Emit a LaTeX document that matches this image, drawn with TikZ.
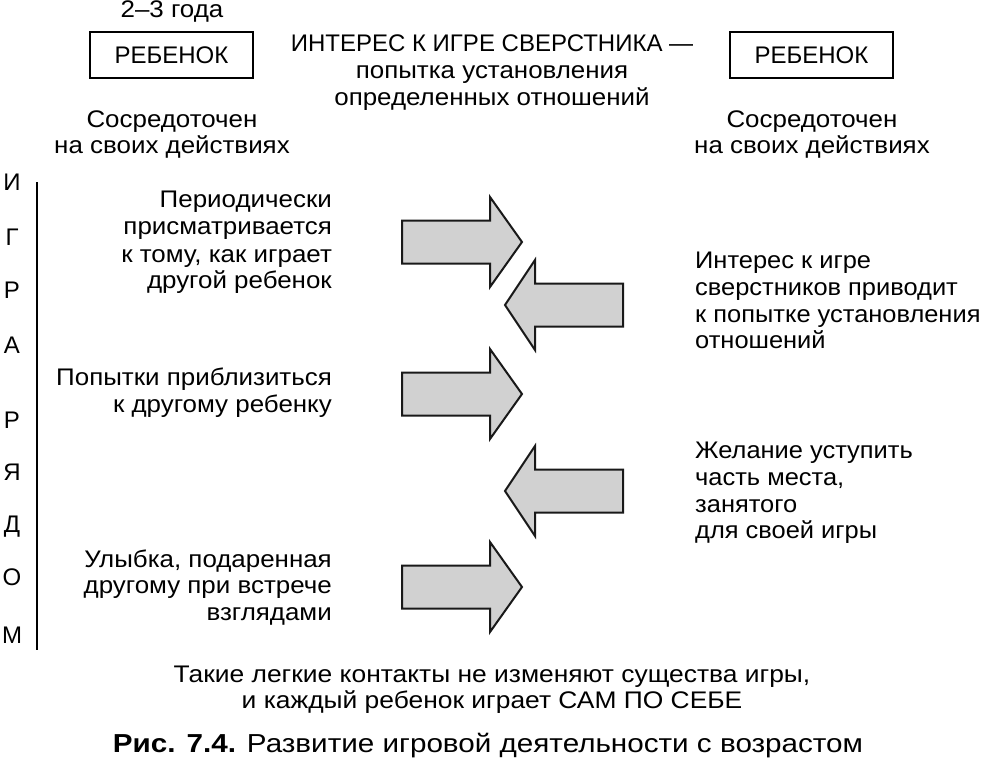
\documentclass[tikz,border=0pt]{standalone}
\usepackage{fontspec}
\setmainfont{Liberation Sans}
\newfontfamily\widefont{Liberation Sans}[FakeStretch=1.08]
\newfontfamily\rightfont{Liberation Sans}[FakeStretch=1.06]
\newfontfamily\widerfont{Liberation Sans}[FakeStretch=1.1]
\newfontfamily\capfont{Liberation Sans}[FakeStretch=1.14]
\begin{document}
\begin{tikzpicture}[x=1pt,y=-1pt,
  every node/.style={inner sep=0pt, font=\widefont\fontsize{24}{27}\selectfont},
  lr/.style={anchor=base east},
  ll/.style={anchor=base west, font=\rightfont\fontsize{24}{27}\selectfont},
  lc/.style={anchor=base},
  plainfont/.style={font=\rmfamily\fontsize{24}{27}\selectfont},
  childbox/.style={draw, line width=2pt, minimum width=163pt, minimum height=46pt,
    font=\rmfamily\fontsize{24}{27}\selectfont},
  arrowshape/.style={draw=black!90, line width=2pt, fill=black!18, line join=miter},
  rarr/.pic={\draw[arrowshape] (-88,-21.5) -- (0,-21.5) -- (0,-45) -- (32,0) -- (0,45) -- (0,21.5) -- (-88,21.5) -- cycle;},
  larr/.pic={\draw[arrowshape] (88,-21.5) -- (0,-21.5) -- (0,-45) -- (-30,0) -- (0,45) -- (0,21.5) -- (88,21.5) -- cycle;}
]
\useasboundingbox (0,0) rectangle (983,768);
\fill[white] (0,0) rectangle (983,768);

% top
\node[lc] (age) at (172,18) {2–3 года};
\node[childbox] (childL) at (171.5,55) {РЕБЕНОК};
\node[childbox] (childR) at (811.5,55) {РЕБЕНОК};
\node[lc, plainfont] (t1) at (492,52) {ИНТЕРЕС К ИГРЕ СВЕРСТНИКА —};
\node[lc] (t2) at (492,78) {попытка установления};
\node[lc] (t3) at (492,105) {определенных отношений};
\node[lc] (sl1) at (172,127) {Сосредоточен};
\node[lc] (sl2) at (172,153) {на своих действиях};
\node[lc] (sr1) at (812,127) {Сосредоточен};
\node[lc] (sr2) at (812,153) {на своих действиях};

% vertical label
\foreach \ch/\yy [count=\i] in {И/190,Г/245,Р/298,А/353,Р/428,Я/480,Д/532,О/585,М/643}
  \node[lc, plainfont] (v\i) at (12,\yy) {\ch};
\coordinate (vtop) at (37,182);
\coordinate (vbot) at (37,650);
\draw[line width=2pt] (vtop) -- (vbot);

% left texts
\node[lr] (a1) at (332,207) {Периодически};
\node[lr] (a2) at (332,234) {присматривается};
\node[lr] (a3) at (332,262) {к тому, как играет};
\node[lr] (a4) at (332,288) {другой ребенок};
\node[lr] (b1) at (332,385) {Попытки приблизиться};
\node[lr] (b2) at (332,412) {к другому ребенку};
\node[lr] (c1) at (332,567) {Улыбка, подаренная};
\node[lr] (c2) at (332,593) {другому при встрече};
\node[lr] (c3) at (332,620) {взглядами};

% right texts
\node[ll] (d1) at (695,268) {Интерес к игре};
\node[ll] (d2) at (695,295) {сверстников приводит};
\node[ll] (d3) at (695,322) {к попытке установления};
\node[ll] (d4) at (695,348) {отношений};
\node[ll] (e1) at (695,458) {Желание уступить};
\node[ll] (e2) at (695,485) {часть места,};
\node[ll] (e3) at (695,512) {занятого};
\node[ll] (e4) at (695,538) {для своей игры};

% arrows
\pic at (490,242) {rarr};
\pic at (490,394) {rarr};
\pic at (490,587) {rarr};
\pic at (535,305) {larr};
\pic at (535,491) {larr};

% bottom
\node[lc, font=\widerfont\fontsize{24}{27}\selectfont] (f1) at (492,682) {Такие легкие контакты не изменяют существа игры,};
\node[lc, font=\widerfont\fontsize{24}{27}\selectfont] (f2) at (492,708) {и каждый ребенок играет САМ ПО СЕБЕ};
\node[lc, font=\capfont\fontsize{26}{28}\selectfont] (cap) at (488,752) {\textbf{Рис. 7.4.} Развитие игровой деятельности с возрастом};
\end{tikzpicture}
\end{document}
